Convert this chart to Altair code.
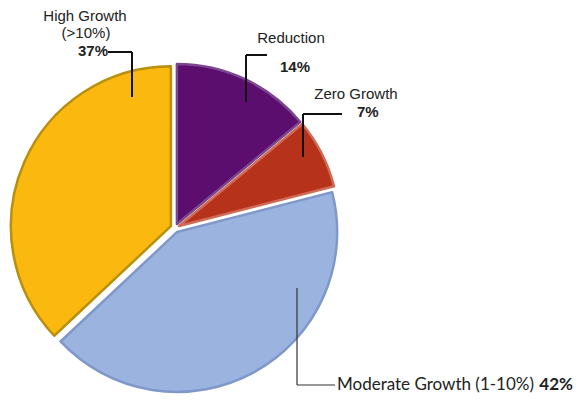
import altair as alt
import pandas as pd

# ---- data ----
categories = ["Reduction", "Zero Growth", "Moderate Growth (1-10%)", "High Growth (>10%)"]
values = [14, 7, 42, 37]
fill_colors = ["#5C0E6E", "#B7321A", "#9BB3DF", "#FBB90F"]
rim_colors = ["#7B4590", "#CF6A55", "#7F98C9", "#B8900E"]

df = pd.DataFrame({"idx": list(range(len(categories))), "category": categories, "value": values})

W, H = 568, 389
CX, CY, R, EXPLODE = 167, 220, 160, 4.5

pie = (
    alt.Chart(df)
    .transform_window(cum="sum(value)", sort=[alt.SortField("idx")], frame=[None, 0])
    .transform_joinaggregate(total="sum(value)")
    .transform_calculate(
        mid="2*PI*(datum.cum - datum.value/2)/datum.total",
    )
    .transform_calculate(
        ex=f"{CX} + {EXPLODE}*sin(datum.mid)",
        ey=f"{CY} - {EXPLODE}*cos(datum.mid)",
    )
    .mark_arc(radius=R, strokeWidth=2.5, strokeJoin="round")
    .encode(
        theta=alt.Theta("value:Q", stack=True),
        order=alt.Order("idx:Q"),
        x=alt.X("ex:Q", scale=None, axis=None),
        y=alt.Y("ey:Q", scale=None, axis=None),
        color=alt.Color("category:N", scale=alt.Scale(domain=categories, range=fill_colors), legend=None),
        stroke=alt.Stroke("category:N", scale=alt.Scale(domain=categories, range=rim_colors), legend=None),
    )
)

one = pd.DataFrame({"a": [0]})

def txt(text, x, y, size=15, weight="normal", align="center", font="Liberation Sans"):
    return alt.Chart(one).mark_text(
        text=text, fontSize=size, fontWeight=weight, align=align, baseline="alphabetic",
        font=font, color="#222222"
    ).encode(x=alt.value(x), y=alt.value(y))

def rule(x1, y1, x2, y2, w=2, c="#111111"):
    return alt.Chart(one).mark_rule(strokeWidth=w, color=c).encode(
        x=alt.value(x1), x2=alt.value(x2), y=alt.value(y1), y2=alt.value(y2)
    )

labels = [
    # High Growth
    txt("High Growth", 77, 13),
    txt("(>10%)", 78, 30),
    txt(f"{values[3]}%", 70, 48, weight="bold", align="left"),
    rule(100, 44, 124, 44), rule(124, 44, 124, 89),
    # Reduction
    txt(categories[0], 283, 35),
    txt(f"{values[0]}%", 272, 64, weight="bold", align="left"),
    rule(238, 47, 259, 47), rule(238, 47, 238, 94),
    # Zero Growth
    txt(categories[1], 348, 91),
    txt(f"{values[1]}%", 349, 109, weight="bold", align="left"),
    rule(295, 106, 334, 106), rule(295, 106, 295, 149),
    # Moderate Growth
    txt(categories[2], 329, 382, size=17, align="left", font="Lato"),
    txt(f"{values[2]}%", 565, 382, size=17, weight="bold", align="right", font="Lato"),
    rule(289, 280, 289, 377, w=1.2, c="#333333"), rule(289, 377, 327, 377, w=1.2, c="#333333"),
]

chart = (
    alt.layer(pie, *labels)
    .properties(width=W, height=H, padding=0, autosize="none", background="white")
    .configure_view(stroke=None)
)

chart.save("out.html", embed_options={"renderer": "svg", "actions": False})
